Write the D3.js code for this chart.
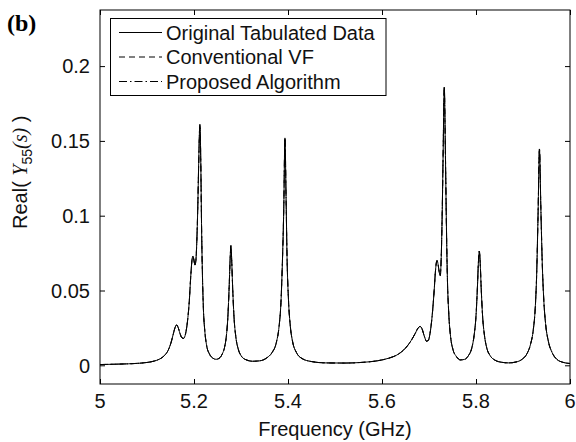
<!DOCTYPE html>
<html>
<head>
<meta charset="utf-8">
<script src="https://cdn.jsdelivr.net/npm/d3@7"></script>
<style>
  body { margin: 0; background: #fff; }
  svg { display: block; }
  .axis-label, .tick-label, .legend-text { font-family: "Liberation Sans", Arial, sans-serif; font-size: 20px; fill: #111; }
</style>
</head>
<body>
<div id="wrapper"></div>
<script>
// frequency samples (GHz)
const freqGHz = [
  5.000, 5.040, 5.080, 5.100, 5.115, 5.127, 5.137, 5.145, 5.151, 5.156,
  5.160, 5.163, 5.166, 5.170, 5.174, 5.178, 5.182, 5.186, 5.190, 5.193,
  5.196, 5.198, 5.200, 5.202, 5.204, 5.206, 5.208, 5.210, 5.2125, 5.2145,
  5.216, 5.218, 5.220, 5.223, 5.227, 5.233, 5.240, 5.247, 5.254, 5.260,
  5.265, 5.269, 5.272, 5.275, 5.277, 5.2785, 5.280, 5.282, 5.285, 5.289,
  5.294, 5.300, 5.310, 5.325, 5.340, 5.355, 5.366, 5.375, 5.381, 5.385,
  5.388, 5.391, 5.3935, 5.396, 5.398, 5.401, 5.405, 5.410, 5.418, 5.430,
  5.450, 5.480, 5.520, 5.560, 5.590, 5.615, 5.635, 5.650, 5.662, 5.671,
  5.677, 5.681, 5.685, 5.690, 5.695, 5.699, 5.703, 5.707, 5.711, 5.714,
  5.717, 5.719, 5.722, 5.724, 5.726, 5.728, 5.730, 5.7325, 5.735, 5.737,
  5.739, 5.742, 5.746, 5.751, 5.758, 5.767, 5.776, 5.784, 5.791, 5.796,
  5.800, 5.803, 5.805, 5.807, 5.809, 5.811, 5.814, 5.818, 5.823, 5.830,
  5.840, 5.855, 5.870, 5.885, 5.898, 5.908, 5.916, 5.922, 5.926, 5.929,
  5.932, 5.935, 5.938, 5.941, 5.944, 5.948, 5.954, 5.962, 5.972, 5.985,
  6.000
] ;

// Real(Y55(s)) of the tabulated data
const origReal = [
  0.0005, 0.0008, 0.0013, 0.0019, 0.0028, 0.0042, 0.0065, 0.0100, 0.0150, 0.0210,
  0.0255, 0.0270, 0.0255, 0.0215, 0.0185, 0.0180, 0.0210, 0.0290, 0.0430, 0.0590,
  0.0710, 0.0730, 0.0700, 0.0670, 0.0700, 0.0830, 0.1050, 0.1350, 0.1610, 0.1350,
  0.0950, 0.0600, 0.0380, 0.0230, 0.0130, 0.0075, 0.0048, 0.0040, 0.0048, 0.0075,
  0.0120, 0.0200, 0.0320, 0.0540, 0.0720, 0.0800, 0.0720, 0.0540, 0.0330, 0.0190,
  0.0110, 0.0065, 0.0038, 0.0027, 0.0030, 0.0050, 0.0085, 0.0150, 0.0260, 0.0420,
  0.0680, 0.1050, 0.1520, 0.1100, 0.0720, 0.0440, 0.0260, 0.0155, 0.0085, 0.0045,
  0.0025, 0.0016, 0.0015, 0.0020, 0.0030, 0.0048, 0.0075, 0.0115, 0.0165, 0.0215,
  0.0250, 0.0260, 0.0245, 0.0195, 0.0160, 0.0170, 0.0230, 0.0340, 0.0500, 0.0640,
  0.0700, 0.0680, 0.0620, 0.0600, 0.0720, 0.1000, 0.1400, 0.1860, 0.1400, 0.0950,
  0.0600, 0.0350, 0.0190, 0.0105, 0.0060, 0.0036, 0.0040, 0.0065, 0.0115, 0.0200,
  0.0330, 0.0520, 0.0680, 0.0764, 0.0680, 0.0520, 0.0330, 0.0200, 0.0115, 0.0065,
  0.0035, 0.0020, 0.0016, 0.0022, 0.0040, 0.0075, 0.0140, 0.0240, 0.0380, 0.0600,
  0.1000, 0.1446, 0.1050, 0.0680, 0.0450, 0.0280, 0.0160, 0.0085, 0.0040, 0.0020,
  0.0012
] ;

// both fits lie on top of the tabulated curve
const vfReal = origReal ;
const proposedReal = origReal ;

const seriesNames = ["Original Tabulated Data", "Conventional VF", "Proposed Algorithm"] ;
const seriesDash = [null, "6,4", "8,3,1.5,3"] ;

const xTicks = [5, 5.2, 5.4, 5.6, 5.8, 6] ;
const yTicks = [0, 0.05, 0.1, 0.15, 0.2] ;

function drawChart() {
  let dimensions = {
    width: 576,
    height: 442,
    margin: { top: 10, right: 6, bottom: 58, left: 100 }
  } ;
  dimensions.boundedWidth = dimensions.width - dimensions.margin.left - dimensions.margin.right ;
  dimensions.boundedHeight = dimensions.height - dimensions.margin.top - dimensions.margin.bottom ;

  const svg = d3.select("#wrapper").append("svg")
    .attr("width", dimensions.width)
    .attr("height", dimensions.height) ;

  const bounds = svg.append("g")
    .attr("transform", `translate(${dimensions.margin.left}, ${dimensions.margin.top})`) ;

  const xScale = d3.scaleLinear()
    .domain([5, 6])
    .range([0, dimensions.boundedWidth]) ;
  const yScale = d3.scaleLinear()
    .domain([-0.0125, 0.2375])
    .range([dimensions.boundedHeight, 0]) ;

  // curves: solid first, dashed ones on top
  const lineGen = d3.line()
    .x((d) => xScale(d[0]))
    .y((d) => yScale(d[1]))
    .curve(d3.curveMonotoneX) ;

  const allSeries = [origReal, vfReal, proposedReal] ;
  allSeries.forEach((vals, i) => {
    bounds.append("path")
      .datum(freqGHz.map((f, j) => [f, vals[j]]))
      .attr("d", lineGen)
      .attr("fill", "none")
      .attr("stroke", "#000")
      .attr("stroke-width", 1)
      .attr("stroke-dasharray", seriesDash[i]) ;
  }) ;

  // axes, MATLAB style: ticks inward on all four sides
  const tickLen = 5 ;
  const xAxisB = d3.axisBottom(xScale).tickValues(xTicks).tickSizeInner(-tickLen).tickSizeOuter(0).tickFormat("") ;
  const xAxisT = d3.axisTop(xScale).tickValues(xTicks).tickSizeInner(-tickLen).tickSizeOuter(0).tickFormat("") ;
  const yAxisL = d3.axisLeft(yScale).tickValues(yTicks).tickSizeInner(-tickLen).tickSizeOuter(0).tickFormat("") ;
  const yAxisR = d3.axisRight(yScale).tickValues(yTicks).tickSizeInner(-tickLen).tickSizeOuter(0).tickFormat("") ;

  bounds.append("g").attr("transform", `translate(0, ${dimensions.boundedHeight})`).call(xAxisB) ;
  bounds.append("g").call(xAxisT) ;
  bounds.append("g").call(yAxisL) ;
  bounds.append("g").attr("transform", `translate(${dimensions.boundedWidth}, 0)`).call(yAxisR) ;
  bounds.selectAll(".domain").remove() ;
  bounds.selectAll(".tick line").attr("stroke", "#000") ;

  bounds.append("rect")
    .attr("width", dimensions.boundedWidth)
    .attr("height", dimensions.boundedHeight)
    .attr("fill", "none")
    .attr("stroke", "#000")
    .attr("stroke-width", 1) ;

  // tick labels
  bounds.selectAll(".xlab")
    .data(xTicks)
    .enter().append("text")
      .attr("class", "tick-label")
      .attr("x", (d) => xScale(d))
      .attr("y", dimensions.boundedHeight + 24)
      .attr("text-anchor", "middle")
      .text((d) => d3.format("~g")(d)) ;

  bounds.selectAll(".ylab")
    .data(yTicks)
    .enter().append("text")
      .attr("class", "tick-label")
      .attr("x", -10)
      .attr("y", (d) => yScale(d))
      .attr("dy", "0.36em")
      .attr("text-anchor", "end")
      .text((d) => d3.format("~g")(d)) ;

  // axis titles
  svg.append("text")
    .attr("class", "axis-label")
    .attr("x", dimensions.margin.left + dimensions.boundedWidth / 2)
    .attr("y", 436)
    .attr("text-anchor", "middle")
    .text("Frequency (GHz)") ;

  const ylab = svg.append("text")
    .attr("class", "axis-label")
    .attr("transform", "translate(26.5, 229) rotate(-90)")
    .attr("text-anchor", "start") ;
  ylab.append("tspan").text("Real(\u00a0") ;
  ylab.append("tspan").attr("font-family", "'Liberation Serif', serif").attr("font-style", "italic").text("Y") ;
  ylab.append("tspan").attr("font-size", "14px").attr("dy", 5).text("55") ;
  ylab.append("tspan").attr("font-family", "'Liberation Serif', serif").attr("font-style", "italic").attr("dy", -5).text("(s)") ;
  ylab.append("tspan").text("\u00a0)") ;

  // panel letter
  svg.append("text")
    .attr("x", 7)
    .attr("y", 31)
    .attr("font-family", "'Liberation Serif', serif")
    .attr("font-weight", "bold")
    .attr("font-size", "24px")
    .text("(b)") ;

  // legend
  const legendGroup = svg.append("g") ;
  legendGroup.append("rect")
    .attr("x", 110.5)
    .attr("y", 18.5)
    .attr("width", 275.5)
    .attr("height", 77)
    .attr("fill", "#fff")
    .attr("stroke", "#000")
    .attr("stroke-width", 1) ;

  seriesNames.forEach((name, i) => {
    const y = 32.5 + i * 24.5 ;
    legendGroup.append("line")
      .attr("x1", 119).attr("x2", 162)
      .attr("y1", y).attr("y2", y)
      .attr("stroke", "#000")
      .attr("stroke-width", 1)
      .attr("stroke-dasharray", seriesDash[i]) ;
    legendGroup.append("text")
      .attr("class", "legend-text")
      .attr("x", 166)
      .attr("y", y)
      .attr("dy", "0.36em")
      .text(name) ;
  }) ;
}

drawChart() ;
</script>
</body>
</html>
